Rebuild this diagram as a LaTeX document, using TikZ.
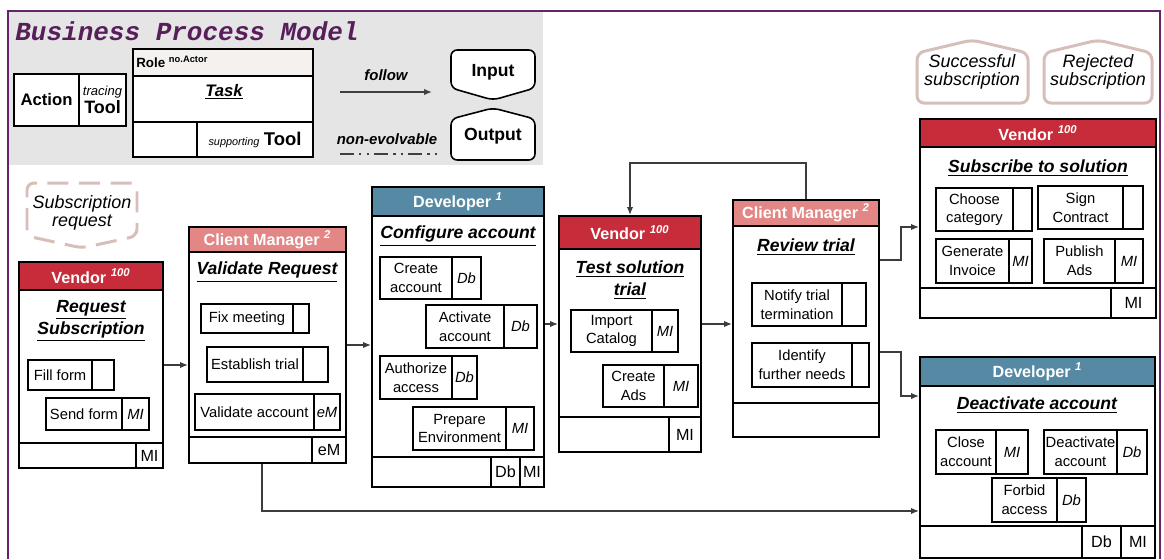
\documentclass[tikz,border=0pt]{standalone}
\usepackage{fontspec}
\setmainfont{Liberation Sans}
\newfontfamily\titlefont{Liberation Mono}
\usetikzlibrary{arrows.meta}

\definecolor{vendred}{RGB}{199,44,58}
\definecolor{cmpink}{RGB}{226,134,134}
\definecolor{devblue}{RGB}{86,138,164}
\definecolor{legendgray}{RGB}{229,229,229}
\definecolor{rolefill}{RGB}{245,241,239}
\definecolor{framepurple}{RGB}{98,38,104}
\definecolor{titlepurple}{RGB}{88,30,90}
\definecolor{outpink}{RGB}{214,190,185}
\definecolor{linegray}{RGB}{60,60,60}

\begin{document}
\begin{tikzpicture}[x=0.02cm, y=-0.02cm,
    spans/.style n args={4}{at={({(#1+#3)/2},{(#2+#4)/2})}, minimum width={(#3-#1)*0.02cm}, minimum height={(#4-#2)*0.02cm}},
    role/.style={draw, line width=1.1pt, inner sep=0pt},
    head/.style={role, text=white, font=\fontsize{9.2}{11}\selectfont\bfseries},
    cell/.style={role, line width=1pt, font=\fontsize{9.2}{11}\selectfont},
    act/.style={draw, line width=0.75pt, inner sep=0pt, align=center, font=\fontsize{8.4}{10.6}\selectfont},
    tool/.style={act, font=\fontsize{8.4}{10.6}\selectfont\itshape},
    task/.style={inner sep=0pt, align=center, font=\fontsize{10}{12.5}\selectfont\bfseries\itshape},
    flow/.style={draw=linegray, line width=0.8pt, -{Latex[length=4.5pt, width=3.6pt]}},
    io/.style={line width=0.9pt, rounded corners=3.5pt},
    endstate/.style={draw=outpink, line width=1.7pt, rounded corners=4pt},
    statetext/.style={align=center, font=\fontsize{10.2}{10.5}\selectfont\itshape},
]
    \useasboundingbox (0,0) rectangle (1164,559);

    % Legend
    \fill[legendgray] (8,11) rectangle (543,165);
    \draw[framepurple, line width=1.1pt] (8,559) -- (8,11) -- (1160,11) -- (1160,559);
    \node[anchor=base west, inner sep=0pt, text=titlepurple, font=\titlefont\fontsize{14.8}{15}\selectfont\bfseries\itshape] (lgtitle) at (15,40) {Business Process Model};
    \node[cell, fill=white, line width=0.8pt, spans={14}{74}{79}{126}, font=\fontsize{9.5}{11}\selectfont\bfseries] (lgaction) {Action};
    \node[cell, fill=white, line width=0.8pt, spans={79}{74}{126}{126}, align=center] (lgtool) {{\fontsize{7.4}{8}\selectfont\itshape tracing}\\[-1pt]{\fontsize{10.2}{11}\selectfont\bfseries Tool}};
    \node[role, fill=white, spans={133}{49}{313}{157}] (lgrole) {};
    \node[role, fill=rolefill, spans={133}{49}{313}{76}] (lgroleh) {};
    \node[anchor=west, inner sep=0pt, font=\fontsize{7.6}{9}\selectfont\bfseries] (lgroletxt) at (136,62) {Role \textsuperscript{no.Actor}};
    \node[task, font=\fontsize{9.5}{11}\selectfont\bfseries\itshape] (lgtask) at (224,92) {\underline{Task}};
    \node[cell, spans={133}{122}{197}{157}] (lgfoot) {};
    \node[cell, spans={197}{122}{313}{157}] (lgfoottool) {{\fontsize{6.2}{8}\selectfont\itshape supporting} {\fontsize{10.5}{11}\selectfont\bfseries Tool}};
    \coordinate (fa) at (340,92);
    \coordinate (fb) at (432,92);
    \draw[flow, draw=black!75] (fa) -- (fb) node[midway, above=3pt, font=\fontsize{8.5}{10}\selectfont\bfseries\itshape] (lgfollow) {follow};
    \node[font=\fontsize{8.5}{10}\selectfont\bfseries\itshape] (lgnonevo) at (387,139) {non-evolvable};
    \coordinate (na) at (340,154);
    \coordinate (nb) at (437,154);
    \draw[black!75, line width=1.6pt, dash pattern=on 8pt off 3pt on 1.2pt off 3pt on 1.2pt off 3pt] (na) -- (nb);
    \draw[io, fill=white] (451,88) -- (451,50) -- (535,50) -- (535,88) -- (493,100) -- cycle;
    \node[font=\fontsize{10}{12}\selectfont\bfseries] (lginput) at (493,72) {Input};
    \draw[io, fill=white] (451,119) -- (493,108) -- (535,119) -- (535,160) -- (451,160) -- cycle;
    \node[font=\fontsize{10}{12}\selectfont\bfseries] (lgoutput) at (493,136) {Output};

    % Start and end states
    \draw[endstate, dash pattern=on 12pt off 6pt] (27,236) -- (27,183) -- (137,183) -- (137,236) -- (82,248) -- cycle;
    \node[statetext] (subreq) at (82,213) {Subscription\\request};
    \draw[endstate] (917,53) -- (972,40) -- (1028,53) -- (1028,103) -- (917,103) -- cycle;
    \node[statetext] (subok) at (972,72) {Successful\\subscription};
    \draw[endstate] (1044,53) -- (1098,40) -- (1152,53) -- (1152,103) -- (1044,103) -- cycle;
    \node[statetext] (subko) at (1098,72) {Rejected\\subscription};

    % Vendor: request subscription
    \node[role, spans={19}{262}{163}{468}] (vend1) {};
    \node[head, fill=vendred, spans={19}{262}{163}{290}] (vend1h) {Vendor \textsuperscript{\itshape 100}};
    \node[task] (vend1t) at (91,321) {\underline{Request}\\\underline{Subscription}};
    \node[act, spans={28}{360}{92}{390}] (fillform) {Fill form};
    \node[act, spans={92}{360}{114}{390}] (fillformx) {};
    \node[act, spans={46}{398}{122}{430}] (sendform) {Send form};
    \node[tool, spans={122}{398}{149}{430}] (sendformx) {MI};
    \node[cell, spans={19}{443}{136}{468}] (vend1f) {};
    \node[cell, spans={136}{443}{163}{468}] (vend1fx) {MI};

    % Client manager: validate request
    \node[role, spans={189}{227}{346}{463}] (cm1) {};
    \node[head, fill=cmpink, spans={189}{227}{346}{252}] (cm1h) {Client Manager \textsuperscript{\itshape 2}};
    \node[task] (cm1t) at (267,272) {\underline{Validate Request}};
    \node[act, spans={201}{304}{293}{333}] (fixmeet) {Fix meeting};
    \node[act, spans={293}{304}{309}{333}] (fixmeetx) {};
    \node[act, spans={207}{347}{303}{382}] (esttrial) {Establish trial};
    \node[act, spans={303}{347}{328}{382}] (esttrialx) {};
    \node[act, spans={195}{394}{314}{430}] (valacc) {Validate account};
    \node[tool, spans={314}{394}{340}{430}] (valaccx) {eM};
    \node[cell, spans={189}{437}{312}{463}] (cm1f) {};
    \node[cell, spans={312}{437}{346}{463}] (cm1fx) {eM};

    % Developer: configure account
    \node[role, spans={372}{187}{544}{487}] (dev1) {};
    \node[head, fill=devblue, spans={372}{187}{544}{216}] (dev1h) {Developer \textsuperscript{\itshape 1}};
    \node[task] (dev1t) at (458,236) {\underline{Configure account}};
    \node[act, spans={380}{257}{452}{299}] (creacc) {Create\\account};
    \node[tool, spans={452}{257}{481}{299}] (creaccx) {Db};
    \node[act, spans={426}{305}{504}{348}] (actacc) {Activate\\account};
    \node[tool, spans={504}{305}{537}{348}] (actaccx) {Db};
    \node[act, spans={380}{356}{452}{399}] (authacc) {Authorize\\access};
    \node[tool, spans={452}{356}{477}{399}] (authaccx) {Db};
    \node[act, spans={413}{407}{506}{450}] (prepenv) {Prepare\\Environment};
    \node[tool, spans={506}{407}{534}{450}] (prepenvx) {MI};
    \node[cell, spans={372}{457}{491}{487}] (dev1f) {};
    \node[cell, spans={491}{457}{520}{487}] (dev1fx) {Db};
    \node[cell, spans={520}{457}{544}{487}] (dev1fy) {MI};

    % Vendor: test solution trial
    \node[role, spans={559}{216}{701}{452}] (vend2) {};
    \node[head, fill=vendred, spans={559}{216}{701}{249}] (vend2h) {Vendor \textsuperscript{\itshape 100}};
    \node[task] (vend2t) at (630,280) {\underline{Test solution}\\\underline{trial}};
    \node[act, spans={571}{310}{652}{352}] (impcat) {Import\\Catalog};
    \node[tool, spans={652}{310}{678}{352}] (impcatx) {MI};
    \node[act, spans={603}{365}{664}{407}] (creads) {Create\\Ads};
    \node[tool, spans={664}{365}{698}{407}] (creadsx) {MI};
    \node[cell, spans={559}{417}{669}{452}] (vend2f) {};
    \node[cell, spans={669}{417}{701}{452}] (vend2fx) {MI};

    % Client manager: review trial
    \node[role, spans={733}{200}{879}{437}] (cm2) {};
    \node[head, fill=cmpink, spans={733}{200}{879}{226}] (cm2h) {Client Manager \textsuperscript{\itshape 2}};
    \node[task] (cm2t) at (806,247) {\underline{Review trial}};
    \node[act, spans={752}{283}{842}{326}] (notify) {Notify trial\\termination};
    \node[act, spans={842}{283}{866}{326}] (notifyx) {};
    \node[act, spans={752}{343}{852}{387}] (needs) {Identify\\further needs};
    \node[act, spans={852}{343}{869}{387}] (needsx) {};
    \node[cell, spans={733}{403}{879}{437}] (cm2f) {};

    % Vendor: subscribe to solution
    \node[role, spans={920}{119}{1156}{318}] (vend3) {};
    \node[head, fill=vendred, spans={920}{119}{1156}{147}] (vend3h) {Vendor \textsuperscript{\itshape 100}};
    \node[task] (vend3t) at (1038,168) {\underline{Subscribe to solution}};
    \node[act, spans={936}{188}{1013}{231}] (choosecat) {Choose\\category};
    \node[act, spans={1013}{188}{1032}{231}] (choosecatx) {};
    \node[act, spans={1038}{186}{1123}{229}] (signcon) {Sign\\Contract};
    \node[act, spans={1123}{186}{1143}{229}] (signconx) {};
    \node[act, spans={936}{239}{1009}{283}] (geninv) {Generate\\Invoice};
    \node[tool, spans={1009}{239}{1032}{283}] (geninvx) {MI};
    \node[act, spans={1044}{239}{1115}{283}] (pubads) {Publish\\Ads};
    \node[tool, spans={1115}{239}{1143}{283}] (pubadsx) {MI};
    \node[cell, spans={920}{288}{1111}{318}] (vend3f) {};
    \node[cell, spans={1111}{288}{1156}{318}] (vend3fx) {MI};

    % Developer: deactivate account
    \node[role, spans={920}{357}{1155}{558}] (dev2) {};
    \node[head, fill=devblue, spans={920}{357}{1155}{386}] (dev2h) {Developer \textsuperscript{\itshape 1}};
    \node[task] (dev2t) at (1037,405) {\underline{Deactivate account}};
    \node[act, spans={936}{430}{996}{474}] (closeacc) {Close\\account};
    \node[tool, spans={996}{430}{1028}{474}] (closeaccx) {MI};
    \node[act, spans={1044}{430}{1117}{474}] (deacc) {Deactivate\\account};
    \node[tool, spans={1117}{430}{1147}{474}] (deaccx) {Db};
    \node[act, spans={992}{478}{1057}{522}] (forbid) {Forbid\\access};
    \node[tool, spans={1057}{478}{1086}{522}] (forbidx) {Db};
    \node[cell, spans={920}{526}{1082}{558}] (dev2f) {};
    \node[cell, spans={1082}{526}{1121}{558}] (dev2fx) {Db};
    \node[cell, spans={1121}{526}{1155}{558}] (dev2fy) {MI};

    % Flow
    \coordinate (t1) at ([yshift=2mm]vend2.west);
    \coordinate (t2) at ([yshift=-1.7mm]vend3.west);
    \coordinate (t3) at ([yshift=12.3mm]dev2.west);
    \coordinate (t4) at ([yshift=-10.7mm]dev2.west);
    \draw[flow] (vend1.east) -- (vend1.east -| cm1.west);
    \draw[flow] (cm1.east) -- (cm1.east -| dev1.west);
    \draw[flow] (t1 -| dev1.east) -- (t1);
    \draw[flow] (t1 -| vend2.east) -- (t1 -| cm2.west);
    \draw[flow] (cm2.north) -- ++(0,-36) -| (vend2.north);
    \draw[flow] ([yshift=11.7mm]cm2.east) -- ++(21,0) |- (t2);
    \draw[flow] ([yshift=-6.7mm]cm2.east) -- ++(21,0) |- (t3);
    \draw[flow] ([xshift=-1.1mm]cm1.south) |- (t4);
\end{tikzpicture}
\end{document}
